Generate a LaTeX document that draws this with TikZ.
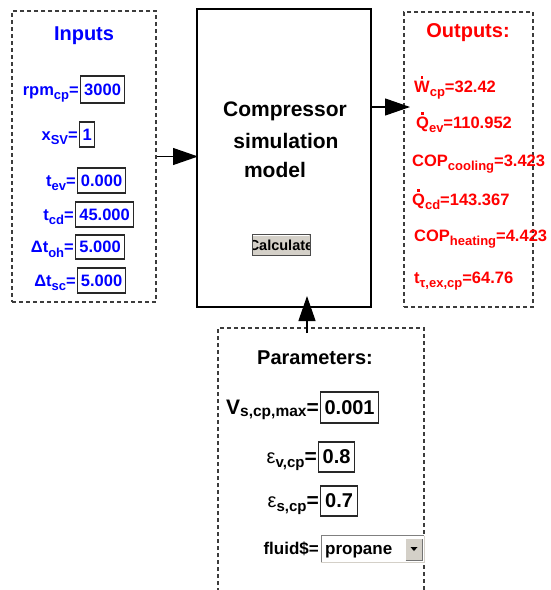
\documentclass[tikz,border=0pt]{standalone}
\usepackage{fontspec}
\setmainfont{Liberation Sans}
\usetikzlibrary{arrows.meta}
\definecolor{btn}{RGB}{212,208,200}
\definecolor{dashc}{RGB}{60,60,60}
\definecolor{fldc}{RGB}{40,40,40}
\definecolor{pureblue}{RGB}{0,0,255}
\definecolor{purered}{RGB}{255,0,0}
\newcommand\sbs[2][13]{\raisebox{-4.5pt}{\fontsize{#1}{#1}\selectfont #2}}
\newcommand\dt[1]{\ooalign{#1\cr\hidewidth\smash{\raisebox{13.5pt}{\rule{2.3pt}{2.3pt}}}\hidewidth\cr}}
\newcommand\fsixteen{\fontsize{16.5}{16.5}\selectfont\bfseries}
\newcommand\ftitle{\fontsize{20}{20}\selectfont\bfseries}
\newcommand\fmain{\fontsize{21}{21}\selectfont\bfseries}
\begin{document}
\begin{tikzpicture}[x=1pt,y=-1pt,
  dbox/.style={draw=dashc, dash pattern=on 4pt off 3pt, line width=1.3pt},
  fld/.style={draw=fldc, line width=1.2pt, inner sep=0pt, anchor=west},
  inlab/.style={font=\fsixteen, text=pureblue, anchor=base east, inner sep=1pt},
  outlab/.style={font=\fsixteen, text=purered, anchor=base west, inner sep=0pt},
  plab/.style={font=\fontsize{21}{21}\selectfont\bfseries, anchor=base east, inner sep=1pt},
  arr/.style={-{Triangle[length=25pt,width=17pt]}, line width=1.2pt, draw=black}]
\fill[white] (0,0) rectangle (550,590);
\useasboundingbox (0,0) rectangle (550,590);

% boxes
\node[dbox, minimum width=144pt, minimum height=291pt, inner sep=0pt] (inputs) at (84,156.5) {};
\node[draw=black, line width=2pt, minimum width=174pt, minimum height=298pt, inner sep=0pt] (main) at (284,158) {};
\node[dbox, minimum width=129pt, minimum height=295pt, inner sep=0pt] (outputs) at (468.5,159.5) {};
\draw[dbox] (218,592) -- (218,328) -- (424,328) -- (424,592);

% titles
\node[font=\ftitle, text=pureblue] (tin) at (84,36) {Inputs};
\node[font=\ftitle, text=purered] (tout) at (468,33) {Outputs:};
\node[font=\ftitle] (tpar) at (315,358) {Parameters:};
\node[font=\fmain] (m1) at (285,111) {Compressor};
\node[font=\fmain] (m2) at (286,141) {simulation};
\node[font=\fmain] (m3) at (275,170) {model};

% inputs
\node[fld, text=pureblue, font=\fsixteen, minimum width=44pt, minimum height=27pt] (f1) at (80,89.5) {3000};
\node[inlab] (l1) at (f1.base west) {rpm\sbs{cp}=};
\node[fld, text=pureblue, font=\fsixteen, minimum width=15pt, minimum height=25pt] (f2) at (79,134.5) {1};
\node[inlab] (l2) at (f2.base west) {x\sbs{SV}=};
\node[fld, text=pureblue, font=\fsixteen, minimum width=48pt, minimum height=25pt] (f3) at (77,180.5) {0.000};
\node[inlab] (l3) at (f3.base west) {t\sbs{ev}=};
\node[fld, text=pureblue, font=\fsixteen, minimum width=58pt, minimum height=25pt] (f4) at (75,214.5) {45.000};
\node[inlab] (l4) at (f4.base west) {t\sbs{cd}=};
\node[fld, text=pureblue, font=\fsixteen, minimum width=49pt, minimum height=24pt] (f5) at (75,247) {5.000};
\node[inlab] (l5) at (f5.base west) {Δt\sbs{oh}=};
\node[fld, text=pureblue, font=\fsixteen, minimum width=48pt, minimum height=25pt] (f6) at (77,280.5) {5.000};
\node[inlab] (l6) at (f6.base west) {Δt\sbs{sc}=};

% outputs
\node[outlab] (o1) at (414,92) {\dt{W}\sbs{cp}=32.42};
\node[outlab] (o2) at (416,128) {\dt{Q}\sbs{ev}=110.952};
\node[outlab] (o3) at (412,166) {COP\sbs{cooling}=3.423};
\node[outlab] (o4) at (412,205) {\dt{Q}\sbs{cd}=143.367};
\node[outlab] (o5) at (414,241) {COP\sbs{heating}=4.423};
\node[outlab] (o6) at (414,283) {t\sbs{τ,ex,cp}=64.76};

% calculate button
\begin{scope}
  \clip (252,234) rectangle (310,255);
  \fill[btn] (252,234) rectangle (310,255);
  \node[font=\fontsize{14.5}{14.5}\selectfont\bfseries, inner sep=0pt] (calc) at (281,245) {Calculate};
\end{scope}
\draw[black!70, line width=0.8pt] (252,234) rectangle (310,255);
\draw[white, line width=0.8pt] (253,235.5) -- (309,235.5);

% parameters
\node[fld, font=\ftitle, minimum width=58pt, minimum height=31pt] (p1) at (320,407.5) {0.001};
\node[plab] (pl1) at (p1.base west) {V\raisebox{-2pt}{\fontsize{15.5}{15.5}\selectfont s,cp,max}=};
\node[fld, font=\ftitle, minimum width=36pt, minimum height=30pt] (p2) at (318,457) {0.8};
\node[plab] (pl2) at (p2.base west) {{\mdseries\fontsize{20}{20}\selectfont ε}\raisebox{-4pt}{\fontsize{15}{15}\selectfont v,cp}=};
\node[fld, font=\ftitle, minimum width=37pt, minimum height=30pt] (p3) at (320,501) {0.7};
\node[plab] (pl3) at (p3.base west) {{\mdseries\fontsize{20}{20}\selectfont ε}\raisebox{-4pt}{\fontsize{15}{15}\selectfont s,cp}=};

% dropdown
\node[fill=white, draw=none, minimum width=103pt, minimum height=26pt, inner sep=0pt, anchor=west] (dd) at (321,549) {};
\draw[black!50, line width=1pt] (dd.south west) -- (dd.north west) -- (dd.north east);
\draw[btn, line width=1pt] (dd.north east) -- (dd.south east) -- (dd.south west);
\fill[btn] (405,538) rectangle (423,561);
\draw[white, line width=0.8pt] (405.5,560.5) -- (405.5,538.5) -- (422.5,538.5);
\draw[black!55, line width=0.8pt] (405.5,560.5) -- (422.5,560.5) -- (422.5,538.5);
\fill[black] (410.5,547) -- (417.5,547) -- (414,551) -- cycle;
\node[font=\fontsize{17}{17}\selectfont\bfseries, anchor=base west, inner sep=0pt] (prop) at (325,554.5) {propane};
\node[font=\fontsize{17}{17}\selectfont\bfseries, anchor=base east, inner sep=0pt] (flab) at ([xshift=-6pt]prop.base west) {fluid\$=};

% connectors
\coordinate (otip) at (410,107);
\coordinate (ptop) at (307,333);
\coordinate (mtip) at (307,296);
\draw[arr] (inputs.east) -- ([xshift=2pt]inputs.east -| main.west);
\draw[arr] (main.east |- otip) -- (otip);
\draw[arr] (ptop) -- (mtip);
\end{tikzpicture}
\end{document}
